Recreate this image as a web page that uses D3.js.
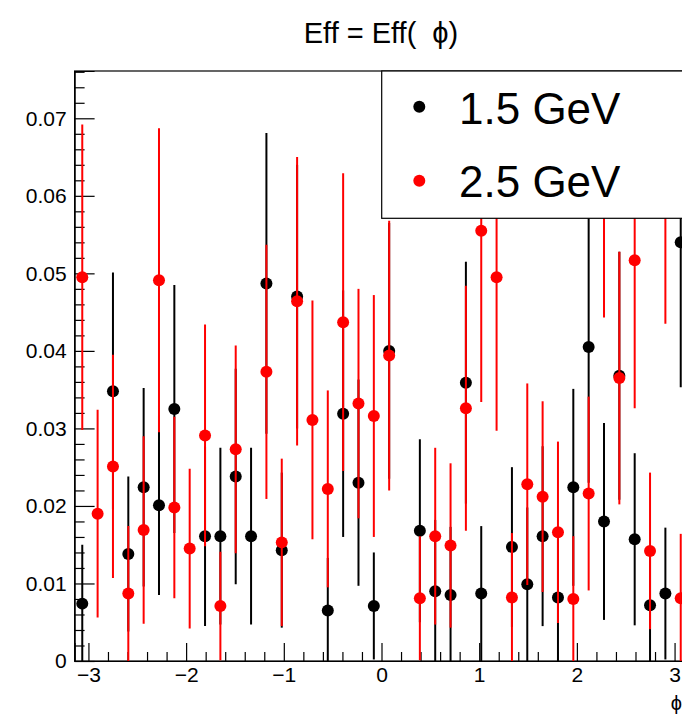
<!DOCTYPE html>
<html>
<head>
<meta charset="utf-8">
<script src="https://cdn.jsdelivr.net/npm/d3@7"></script>
<style>
  html, body { margin: 0; padding: 0; background: #fff; }
  svg { display: block; }
  text { font-family: "Liberation Sans", Arial, Helvetica, sans-serif; }
</style>
</head>
<body>
<div id="chart"></div>
<script>
// ---- data ----
const titleMain = "Eff = Eff(";
const titleSym = "ϕ";
const xAxisTitle = "ϕ";
const seriesNames = ["1.5 GeV", "2.5 GeV"];
const seriesColors = ["#000000", "#ff0000"];

const phiCenters = [
  -3.0631, -2.9060, -2.7489, -2.5918, -2.4347, -2.2777, -2.1206, -1.9635, -1.8064, -1.6493,
  -1.4923, -1.3352, -1.1781, -1.0210, -0.8639, -0.7069, -0.5498, -0.3927, -0.2356, -0.0785,
   0.0785,  0.2356,  0.3927,  0.5498,  0.7069,  0.8639,  1.0210,  1.1781,  1.3352,  1.4923,
   1.6493,  1.8064,  1.9635,  2.1206,  2.2777,  2.4347,  2.5918,  2.7489,  2.9060,  3.0631
];

const eff15 = [
  0.0074, null, 0.0348, 0.0138, 0.0224, 0.0201, 0.0325, null, 0.0161, 0.0161,
  0.0238, 0.0161, 0.0487, 0.0143, 0.0470, null, 0.0065, 0.0319, 0.0230, 0.0071,
  0.0400, null, 0.0168, 0.0090, 0.0085, 0.0359, 0.0087, null, 0.0147, 0.0099,
  0.0161, 0.0082, 0.0224, 0.0405, 0.0180, 0.0368, 0.0157, 0.0072, 0.0087, 0.0540
];
const err15 = [
  0.0076, null, 0.0153, 0.0100, 0.0128, 0.0116, 0.0160, null, 0.0116, 0.0114,
  0.0139, 0.0114, 0.0194, 0.0100, 0.0170, null, 0.0068, 0.0159, 0.0133, 0.0069,
  0.0165, null, 0.0118, 0.0092, 0.0088, 0.0156, 0.0087, null, 0.0103, 0.0099,
  0.0116, 0.0085, 0.0127, 0.0175, 0.0127, 0.0160, 0.0111, 0.0072, 0.0085, 0.0187
];

const eff25 = [
  0.0495, 0.0190, 0.0251, 0.0087, 0.0169, 0.0491, 0.0198, 0.0145, 0.0291, 0.0071,
  0.0273, null, 0.0373, 0.0153, 0.0464, 0.0311, 0.0222, 0.0437, 0.0332, 0.0316,
  0.0394, null, 0.0081, 0.0161, 0.0149, 0.0326, 0.0555, 0.0495, 0.0082, 0.0228,
  0.0212, 0.0166, 0.0080, 0.0216, 0.0643, 0.0365, 0.0517, 0.0142, 0.0630, 0.0081
];
const err25 = [
  0.0197, 0.0134, 0.0144, 0.0087, 0.0121, 0.0196, 0.0117, 0.0103, 0.0143, 0.0070,
  0.0134, null, 0.0164, 0.0108, 0.0186, 0.0154, 0.0127, 0.0192, 0.0148, 0.0156,
  0.0174, null, 0.0080, 0.0114, 0.0106, 0.0158, 0.0221, 0.0198, 0.0083, 0.0130,
  0.0123, 0.0117, 0.0081, 0.0125, 0.0200, 0.0163, 0.0191, 0.0101, 0.0195, 0.0083
];

const yMajorTicks = [0, 0.01, 0.02, 0.03, 0.04, 0.05, 0.06, 0.07];
const xMajorTicks = [-3, -2, -1, 0, 1, 2, 3];
const xDomain = [-Math.PI, Math.PI];
const yDomain = [0, 0.0761];

// ---- layout ----
const W = 682, H = 714;
const frame = { left: 74.6, right: 688.4, top: 71, bottom: 661 };

const svg = d3.select("#chart").append("svg")
  .attr("width", W).attr("height", H)
  .style("background", "#fff");

const x = d3.scaleLinear().domain(xDomain).range([frame.left, frame.right]);
const y = d3.scaleLinear().domain(yDomain).range([frame.bottom, frame.top]);

// title
const title = svg.append("text")
  .attr("x", 381).attr("y", 43)
  .attr("text-anchor", "middle")
  .attr("font-size", 29)
  .attr("fill", "#000");
title.append("tspan").text(titleMain);
title.append("tspan").attr("dx", 16).text(titleSym);
title.append("tspan").text(")");

// clip
svg.append("defs").append("clipPath").attr("id", "plotclip")
  .append("rect")
  .attr("x", frame.left).attr("y", frame.top)
  .attr("width", frame.right - frame.left)
  .attr("height", frame.bottom - frame.top);

// frame
svg.append("rect")
  .attr("x", frame.left).attr("y", frame.top)
  .attr("width", frame.right - frame.left)
  .attr("height", frame.bottom - frame.top)
  .attr("fill", "none").attr("stroke", "#000").attr("stroke-width", 1.2);

// y axis (ticks inside)
const yMinor = d3.range(0, 0.0761, 0.002).filter(v => !yMajorTicks.some(t => Math.abs(t - v) < 1e-9));
svg.append("g").attr("transform", `translate(${frame.left},0)`)
  .call(d3.axisLeft(y).tickValues(yMinor).tickSize(-10).tickFormat(""))
  .call(g => g.select(".domain").remove());
const yAxisG = svg.append("g").attr("transform", `translate(${frame.left},0)`)
  .call(d3.axisLeft(y).tickValues(yMajorTicks).tickSize(-20).tickPadding(8)
    .tickFormat(d => d === 0 ? "0" : d3.format(".2f")(d)));
yAxisG.select(".domain").attr("stroke", "#000").attr("stroke-width", 1.2);
yAxisG.selectAll("text").attr("font-size", 21).attr("fill", "#000")
  .attr("font-family", "'Liberation Sans', Arial, sans-serif");

// x axis (ticks inside, pointing up)
const xMinor = d3.range(-3.0, 3.21, 0.2).map(v => Math.round(v * 10) / 10)
  .filter(v => v >= xDomain[0] && v <= xDomain[1] && !xMajorTicks.includes(v));
svg.append("g").attr("transform", `translate(0,${frame.bottom})`)
  .call(d3.axisBottom(x).tickValues(xMinor).tickSize(-9).tickFormat(""))
  .call(g => g.select(".domain").remove());
const xAxisG = svg.append("g").attr("transform", `translate(0,${frame.bottom})`)
  .call(d3.axisBottom(x).tickValues(xMajorTicks).tickSize(-18).tickPadding(6)
    .tickFormat(d3.format("d")));
xAxisG.select(".domain").attr("stroke", "#000").attr("stroke-width", 1.2);
xAxisG.selectAll("text").attr("font-size", 21).attr("fill", "#000")
  .attr("font-family", "'Liberation Sans', Arial, sans-serif");
svg.selectAll(".tick line").attr("stroke", "#000").attr("stroke-width", 1.2);

// x axis title
svg.append("text")
  .attr("x", 682).attr("y", 710)
  .attr("text-anchor", "end")
  .attr("font-size", 20).attr("fill", "#000")
  .text(xAxisTitle);

// data
const series = [
  { vals: eff15, errs: err15, color: seriesColors[0] },
  { vals: eff25, errs: err25, color: seriesColors[1] }
];
const plot = svg.append("g").attr("clip-path", "url(#plotclip)");
series.forEach(s => {
  const pts = phiCenters.map((p, i) => ({ p, v: s.vals[i], e: s.errs[i] }))
    .filter(d => d.v !== null);
  const g = plot.append("g");
  g.selectAll("line").data(pts).join("line")
    .attr("x1", d => x(d.p)).attr("x2", d => x(d.p))
    .attr("y1", d => y(Math.max(0, d.v - d.e)))
    .attr("y2", d => y(d.v + d.e))
    .attr("stroke", s.color).attr("stroke-width", 2);
  g.selectAll("circle").data(pts).join("circle")
    .attr("cx", d => x(d.p)).attr("cy", d => y(d.v))
    .attr("r", 6).attr("fill", s.color);
});

// legend
const leg = svg.append("g");
leg.append("rect")
  .attr("x", 381.7).attr("y", frame.top)
  .attr("width", 330).attr("height", 218.3 - frame.top)
  .attr("fill", "#fff").attr("stroke", "#000").attr("stroke-width", 1.2);
[[106.7, 123.5], [180.7, 197]].forEach((pos, i) => {
  leg.append("circle").attr("cx", 419.3).attr("cy", pos[0]).attr("r", 6)
    .attr("fill", seriesColors[i]);
  leg.append("text").attr("x", 459).attr("y", pos[1])
    .attr("font-size", 44).attr("fill", "#000").text(seriesNames[i]);
});
</script>
</body>
</html>
